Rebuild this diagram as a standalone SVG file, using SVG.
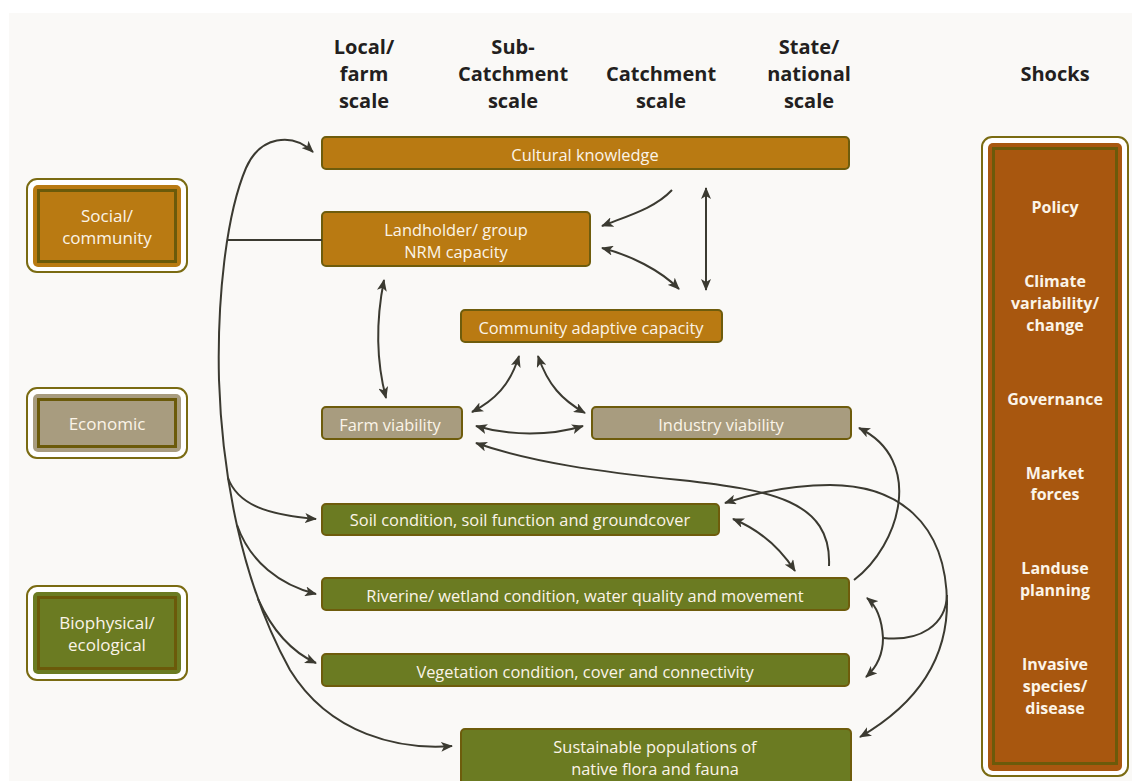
<svg xmlns="http://www.w3.org/2000/svg" width="1132" height="781" viewBox="0 0 1132 781">
<defs>
<marker id="ah" viewBox="0 0 12 10" refX="11" refY="5" markerWidth="12" markerHeight="10" markerUnits="userSpaceOnUse" orient="auto-start-reverse">
<path d="M0,0 L12,5 L0,10 L3,5 z" fill="#3b3a31"/>
</marker>
<style>
.hd{font-family:"Open Sans","Liberation Sans",sans-serif;font-weight:bold;font-size:20px;fill:#231f20;text-anchor:middle}
.nt{font-family:"Open Sans","Liberation Sans",sans-serif;font-size:16.4px;fill:#fbf4e8;text-anchor:middle}
.ct{font-family:"Open Sans","Liberation Sans",sans-serif;font-size:17px;fill:#fbf4e8;text-anchor:middle}
.st{font-family:"Open Sans","Liberation Sans",sans-serif;font-weight:bold;font-size:16px;fill:#fbf4e8;text-anchor:middle}
.box{stroke:#6e5c0c;stroke-width:2}
.gold{fill:#b97a12}
.taupe{fill:#a89c7f}
.green{fill:#6b7b22}
.rust{fill:#a8570f}
.outer{fill:#ffffff;stroke:#7a6b12;stroke-width:2}
.inner{fill:none;stroke:#6b5a0a;stroke-width:3}
.c{fill:none;stroke:#3b3a31;stroke-width:2}
.a{marker-end:url(#ah)}
.aa{marker-end:url(#ah);marker-start:url(#ah)}
</style>
</defs>
<rect x="0" y="0" width="1132" height="781" fill="#ffffff"/>
<rect x="9" y="13" width="1123" height="768" fill="#faf9f7"/>

<g id="headers">
<text class="hd" x="364" y="54">Local/</text>
<text class="hd" x="364" y="81">farm</text>
<text class="hd" x="364" y="108">scale</text>
<text class="hd" x="513" y="54">Sub-</text>
<text class="hd" x="513" y="81">Catchment</text>
<text class="hd" x="513" y="108">scale</text>
<text class="hd" x="661" y="81">Catchment</text>
<text class="hd" x="661" y="108">scale</text>
<text class="hd" x="809" y="54">State/</text>
<text class="hd" x="809" y="81">national</text>
<text class="hd" x="809" y="108">scale</text>
<text class="hd" x="1055" y="81">Shocks</text>
</g>

<g id="cat-social">
<rect class="outer" x="27" y="179" width="160" height="93" rx="10"/>
<rect class="gold" x="33" y="185" width="148" height="82" rx="5"/>
<rect class="inner" x="38.5" y="190.5" width="137" height="71"/>
<text class="ct" x="107" y="222">Social/</text>
<text class="ct" x="107" y="244">community</text>
</g>
<g id="cat-economic">
<rect class="outer" x="27" y="388" width="160" height="70" rx="10"/>
<rect class="taupe" x="33" y="394" width="148" height="58" rx="5"/>
<rect class="inner" x="38.5" y="399.5" width="137" height="47"/>
<text class="ct" x="107" y="430">Economic</text>
</g>
<g id="cat-bio">
<rect class="outer" x="27" y="586" width="160" height="94" rx="10"/>
<rect class="green" x="33" y="592" width="148" height="82" rx="5"/>
<rect class="inner" x="38.5" y="597.5" width="137" height="71"/>
<text class="ct" x="107" y="629">Biophysical/</text>
<text class="ct" x="107" y="651">ecological</text>
</g>
<g id="cat-shocks">
<rect class="outer" x="982" y="137" width="146" height="639" rx="10"/>
<rect class="rust" x="988" y="143" width="134" height="628" rx="5"/>
<rect class="inner" x="993.5" y="148.5" width="123" height="615"/>
<text class="st" x="1055" y="213">Policy</text>
<text class="st" x="1055" y="287">Climate</text>
<text class="st" x="1055" y="309">variability/</text>
<text class="st" x="1055" y="331">change</text>
<text class="st" x="1055" y="405">Governance</text>
<text class="st" x="1055" y="479">Market</text>
<text class="st" x="1055" y="500">forces</text>
<text class="st" x="1055" y="574">Landuse</text>
<text class="st" x="1055" y="596">planning</text>
<text class="st" x="1055" y="670">Invasive</text>
<text class="st" x="1055" y="692">species/</text>
<text class="st" x="1055" y="714">disease</text>
</g>

<g id="n-cultural">
<rect class="box gold" x="322" y="137" width="527" height="32" rx="4"/>
<text class="nt" x="585" y="161">Cultural knowledge</text>
</g>
<g id="n-landholder">
<rect class="box gold" x="322" y="212" width="268" height="54" rx="4"/>
<text class="nt" x="456" y="236">Landholder/ group</text>
<text class="nt" x="456" y="258">NRM capacity</text>
</g>
<g id="n-community">
<rect class="box gold" x="461" y="310" width="261" height="32" rx="4"/>
<text class="nt" x="591" y="334">Community adaptive capacity</text>
</g>
<g id="n-farm">
<rect class="box taupe" x="322" y="407" width="140" height="32" rx="4"/>
<text class="nt" x="390" y="431">Farm viability</text>
</g>
<g id="n-industry">
<rect class="box taupe" x="592" y="407" width="259" height="32" rx="4"/>
<text class="nt" x="721" y="431">Industry viability</text>
</g>
<g id="n-soil">
<rect class="box green" x="322" y="504" width="397" height="31" rx="4"/>
<text class="nt" x="520" y="526">Soil condition, soil function and groundcover</text>
</g>
<g id="n-riverine">
<rect class="box green" x="322" y="578" width="527" height="32" rx="4"/>
<text class="nt" x="585" y="602">Riverine/ wetland condition, water quality and movement</text>
</g>
<g id="n-vegetation">
<rect class="box green" x="322" y="654" width="527" height="32" rx="4"/>
<text class="nt" x="585" y="678">Vegetation condition, cover and connectivity</text>
</g>
<g id="n-sustainable">
<rect class="box green" x="461" y="729" width="390" height="60" rx="4"/>
<text class="nt" x="655" y="753">Sustainable populations of</text>
<text class="nt" x="655" y="775">native flora and fauna</text>
</g>

<g id="connectors">
<path class="c a" d="M219,380 C217,300 226,215 246,168 C260,136 292,132 313,152"/>
<path class="c a" d="M219,380 C222,470 240,580 290,670 C330,735 400,750 452,746"/>
<path class="c" d="M227,240 L322,240"/>
<path class="c a" d="M228,478 C238,505 268,515 316,519"/>
<path class="c a" d="M237,525 C250,562 280,585 316,594"/>
<path class="c a" d="M258,599 C272,630 292,652 316,663"/>

<path class="c a" d="M672,190 C655,208 630,215 602,226"/>
<path class="c aa" d="M602,248 C630,255 660,270 679,289"/>
<path class="c aa" d="M706,188 L706,290"/>
<path class="c aa" d="M384,280 C376,320 376,360 386,398"/>
<path class="c aa" d="M519,356 C510,385 495,400 472,412"/>
<path class="c aa" d="M538,356 C548,385 562,400 585,413"/>
<path class="c aa" d="M476,426 C510,436 550,436 583,426"/>
<path class="c a" d="M829,566 C832,500 770,490 680,480 C600,472 530,462 476,443"/>
<path class="c aa" d="M733,519 C760,530 780,548 795,571"/>
<path class="c a" d="M854,580 C900,545 925,460 859,428"/>
<path class="c a" d="M947,605 C947,520 895,485 830,485 C790,485 755,493 725,503"/>
<path class="c a" d="M947,600 C948,660 915,705 860,737"/>
<path class="c" d="M947,595 C946,625 920,642 883,638"/>
<path class="c a" d="M883,638 C882,620 878,607 867,598"/>
<path class="c a" d="M883,638 C883,655 877,667 866,677"/>
</g>
</svg>
